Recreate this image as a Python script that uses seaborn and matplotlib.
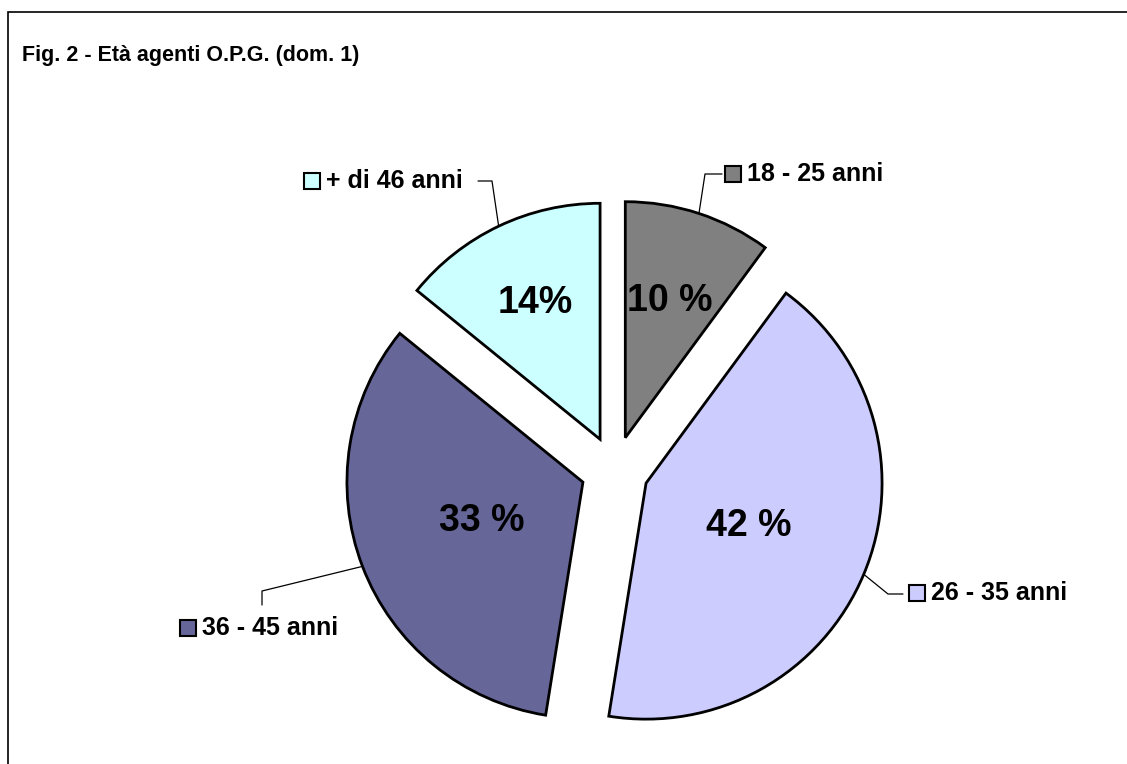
import matplotlib.pyplot as plt
import seaborn as sns
import numpy as np
from matplotlib.patches import Rectangle

# Dati
categorie = ['18 - 25 anni', '26 - 35 anni', '36 - 45 anni', '+ di 46 anni']
percentuali = [10, 42, 33, 14]
etichette_pct = ['10 %', '42 %', '33 %', '14%']
colori = ['#808080', '#CCCCFF', '#666699', '#CCFFFF']

sns.set_style('white')
plt.rcParams['font.family'] = ['Liberation Sans', 'DejaVu Sans']
plt.rcParams['text.color'] = 'black'

W, H = 1127, 764


def py(y):
    # coordinate immagine (y verso il basso) -> coordinate assi
    return H - y


fig = plt.figure(figsize=(W / 100, H / 100), dpi=100)
ax = fig.add_axes([0, 0, 1, 1])

# explode in unità dati (pixel), il raggio è 236
wedges, _ = ax.pie(percentuali, colors=colori, startangle=90, counterclock=False,
                   explode=[34] * 4, radius=236, center=(614.7, py(470)),
                   wedgeprops=dict(edgecolor='black', linewidth=2))
ax.set_xlim(0, W)
ax.set_ylim(0, H)
ax.axis('off')

# Percentuali dentro le fette
dist_pct = [0.61, 0.47, 0.46, 0.64]
for w, lab, d in zip(wedges, etichette_pct, dist_pct):
    mid = np.deg2rad((w.theta1 + w.theta2) / 2)
    cx, cy = w.center
    ax.text(cx + d * w.r * np.cos(mid), cy + d * w.r * np.sin(mid), lab,
            ha='center', va='center', fontsize=27, fontweight='bold', color='black')

# Etichette con linee guida (coordinate immagine)
gomiti = [[(705, 174), (722, 174)],
          [(888, 594), (903, 594)],
          [(262, 591), (262, 605)],
          [(492, 181), (478, 181)]]
marker_pos = [(733, 174), (917, 593), (188, 628), (312, 181)]

for w, cat, pts, (mx, my) in zip(wedges, categorie, gomiti, marker_pos):
    mid = np.deg2rad((w.theta1 + w.theta2) / 2)
    cx, cy = w.center
    xs = [cx + w.r * np.cos(mid)] + [p[0] for p in pts]
    ys = [cy + w.r * np.sin(mid)] + [py(p[1]) for p in pts]
    ax.plot(xs, ys, color='black', linewidth=0.9)
    ax.add_patch(Rectangle((mx - 8, py(my) - 8), 16, 16, facecolor=w.get_facecolor(),
                           edgecolor='black', linewidth=1.5))
    ax.text(mx + 14, py(my), cat, ha='left', va='center', fontsize=18,
            fontweight='bold', color='black')

# Titolo
ax.text(22, py(55), 'Fig. 2 - Età agenti O.P.G. (dom. 1)', ha='left', va='center',
        fontsize=15.5, fontweight='bold', color='black')

# Cornice
ax.add_patch(Rectangle((8, -20), W + 50, py(12) + 20, fill=False,
                       edgecolor='black', linewidth=1.2))

plt.savefig('out.png', dpi=100)
